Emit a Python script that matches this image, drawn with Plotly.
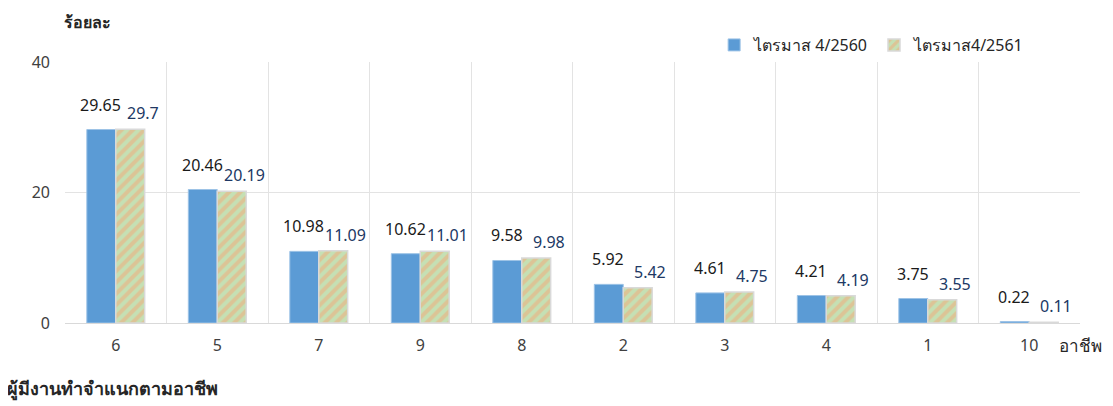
import plotly.graph_objects as go

categories = ["6", "5", "7", "9", "8", "2", "3", "4", "1", "10"]
q4_2560 = [29.65, 20.46, 10.98, 10.62, 9.58, 5.92, 4.61, 4.21, 3.75, 0.22]
q4_2561 = [29.7, 20.19, 11.09, 11.01, 9.98, 5.42, 4.75, 4.19, 3.55, 0.11]
series_names = ["ไตรมาส 4/2560", "ไตรมาส4/2561"]
y_ticks = [0, 20, 40]

FONT = "Noto Sans, Tahoma, sans-serif"

fig = go.Figure()
fig.add_trace(go.Bar(
    x=categories, y=q4_2560, name=series_names[0],
    marker=dict(color="#5b9bd5", line=dict(color="#9dc3e6", width=1)),
))
fig.add_trace(go.Bar(
    x=categories, y=q4_2561, name=series_names[1],
    marker=dict(
        color="#c5e0b4",
        line=dict(color="#d9d9d9", width=1.5),
        pattern=dict(shape="/", bgcolor="#c5e0b4", fgcolor="#f4a877",
                     size=8, solidity=0.5, fillmode="overlay"),
    ),
))

annotations = []
for i, c in enumerate(categories):
    annotations.append(dict(
        x=i, y=q4_2560[i], xref="x", yref="y", text=f"{q4_2560[i]:g}",
        showarrow=False, xshift=-15, yshift=25, yanchor="middle",
        font=dict(size=16, color="#1a1a1a", family=FONT),
    ))
    annotations.append(dict(
        x=i, y=q4_2561[i], xref="x", yref="y", text=f"{q4_2561[i]:g}",
        showarrow=False, xshift=27, yshift=16, yanchor="middle",
        font=dict(size=16, color="#203864", family=FONT),
    ))

annotations += [
    dict(text="<b>ร้อยละ</b>", xref="paper", yref="paper", x=0.0, y=1.0,
         yshift=40, xshift=-3, xanchor="left", yanchor="middle", showarrow=False,
         font=dict(size=16, color="#262626", family=FONT)),
    dict(text="<b>ผู้มีงานทำจำแนกตามอาชีพ</b>", xref="paper", yref="paper",
         x=0.0, y=0.0, xshift=-60, yshift=-65, xanchor="left", yanchor="middle",
         showarrow=False, font=dict(size=18, color="#262626", family=FONT)),
    dict(text="อาชีพ", xref="paper", yref="paper", x=1.0, y=0.0,
         xshift=24, yshift=-22, xanchor="right", yanchor="middle", showarrow=False,
         font=dict(size=17, color="#262626", family=FONT)),
]

fig.update_layout(
    width=1105, height=398,
    margin=dict(l=57, r=33, t=54, b=83, autoexpand=False),
    paper_bgcolor="white", plot_bgcolor="white",
    barmode="group", bargap=0.43, bargroupgap=0.0,
    font=dict(family=FONT, size=16, color="#404040"),
    legend=dict(orientation="h", xref="container", yref="container",
                x=0.925, xanchor="right", y=1 - 37 / 398, yanchor="middle",
                font=dict(size=16, color="#262626"), itemwidth=30,
                bgcolor="rgba(0,0,0,0)"),
    xaxis=dict(type="category", tickson="boundaries", showgrid=True,
               gridcolor="#e3e3e3", ticks="", showline=True, linecolor="#d9d9d9",
               ticklabelstandoff=8, tickfont=dict(size=16, color="#404040")),
    yaxis=dict(range=[0, 40], tickvals=y_ticks, showgrid=True, gridcolor="#e3e3e3",
               zeroline=False, ticks="", ticklabelstandoff=14,
               tickfont=dict(size=16, color="#404040")),
    annotations=annotations,
    showlegend=True,
)

fig.write_html("out.html")
